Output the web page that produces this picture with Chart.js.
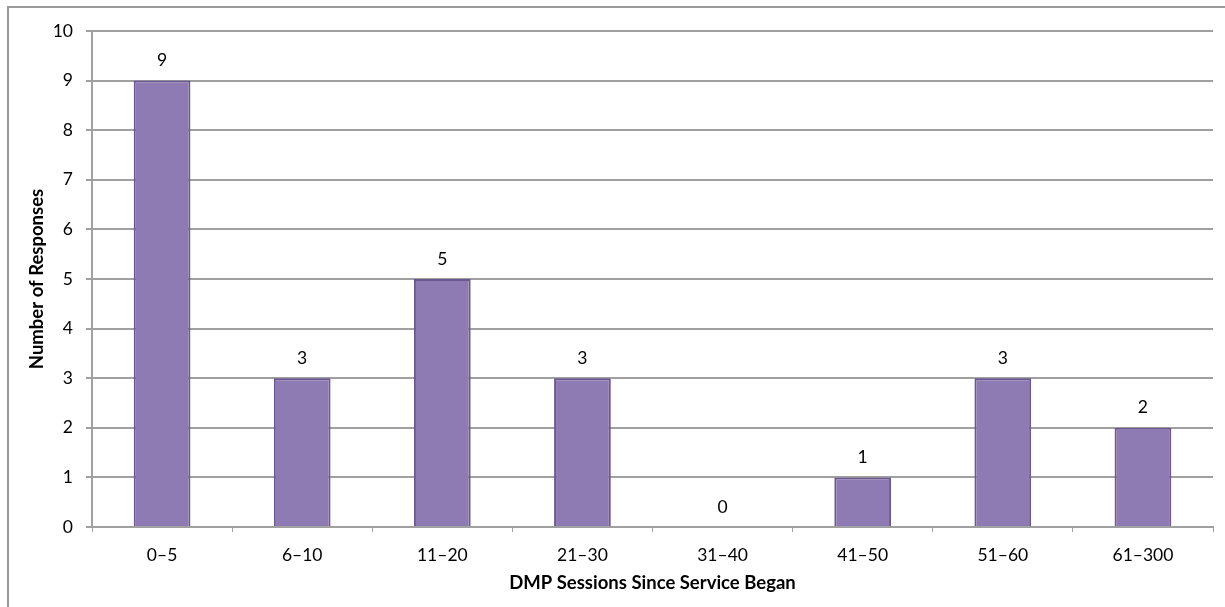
<!DOCTYPE html>
<html>
<head>
<meta charset="utf-8">
<script src="https://cdn.jsdelivr.net/npm/chart.js@4.4.1/dist/chart.umd.min.js"></script>
<style>
  html, body { margin: 0; padding: 0; background: #ffffff; }
  canvas { display: block; }
</style>
</head>
<body>
<canvas id="chart" width="1225" height="607"></canvas>
<script>
// Survey responses grouped by number of DMP sessions
const categories = ['0–5', '6–10', '11–20', '21–30', '31–40', '41–50', '51–60', '61–300'];
const responses = [9, 3, 5, 3, 0, 1, 3, 2];
const yTicks = [0, 1, 2, 3, 4, 5, 6, 7, 8, 9, 10];

const xTitle = 'DMP Sessions Since Service Began';
const yTitle = 'Number of Responses';

const FONT = 'Lato, "Open Sans", "Liberation Sans", sans-serif';
const GRID = '#a0a0a0';

// Gray frame around the whole chart
const framePlugin = {
  id: 'frame',
  beforeDraw(chart) {
    const ctx = chart.ctx;
    ctx.save();
    ctx.fillStyle = '#ffffff';
    ctx.fillRect(0, 0, chart.width, chart.height);
    ctx.strokeStyle = '#9a9a9a';
    ctx.lineWidth = 2;
    ctx.strokeRect(8, 7, chart.width + 20, chart.height + 20);
    ctx.restore();
  }
};

// Value printed above each bar
const valueLabels = {
  id: 'valueLabels',
  afterDatasetsDraw(chart) {
    const ctx = chart.ctx;
    const meta = chart.getDatasetMeta(0);
    const data = chart.data.datasets[0].data;
    ctx.save();
    ctx.font = '17.5px ' + FONT;
    ctx.fillStyle = '#000000';
    ctx.textAlign = 'center';
    ctx.textBaseline = 'middle';
    meta.data.forEach((bar, i) => {
      ctx.fillText(String(data[i]), bar.x, bar.y - 20);
    });
    ctx.restore();
  }
};

new Chart(document.getElementById('chart'), {
  type: 'bar',
  data: {
    labels: categories,
    datasets: [{
      data: responses,
      backgroundColor: '#8f7bb3',
      borderColor: '#6b5893',
      borderWidth: 2,
      borderSkipped: 'bottom',
      categoryPercentage: 1.0,
      barPercentage: 0.405
    }]
  },
  options: {
    responsive: false,
    devicePixelRatio: 1,
    animation: false,
    layout: { padding: { top: 31, right: 12, bottom: 0, left: 0 } },
    plugins: {
      legend: { display: false },
      tooltip: { enabled: false }
    },
    scales: {
      x: {
        grid: {
          display: true,
          drawOnChartArea: false,
          drawTicks: true,
          tickLength: 5,
          color: GRID,
          lineWidth: 1
        },
        border: { display: true, color: GRID, width: 2 },
        ticks: {
          color: '#000000',
          padding: 13,
          font: { family: FONT, size: 17.5 },
          maxRotation: 0,
          autoSkip: false
        },
        title: {
          display: true,
          text: xTitle,
          color: '#000000',
          font: { family: FONT, size: 18.5, weight: 'bold', lineHeight: 1.2 },
          padding: { top: 0, bottom: 13 }
        },
        afterFit(scale) { scale.height = 80; }
      },
      y: {
        min: 0,
        max: 10,
        afterBuildTicks(scale) {
          scale.ticks = yTicks.map(v => ({ value: v }));
        },
        grid: {
          color: GRID,
          lineWidth: 2,
          drawTicks: true,
          tickLength: 6
        },
        border: { display: true, color: GRID, width: 2 },
        ticks: {
          color: '#000000',
          padding: 13,
          font: { family: FONT, size: 17.5 }
        },
        title: {
          display: true,
          text: yTitle,
          color: '#000000',
          font: { family: FONT, size: 18.5, weight: 'bold', lineHeight: 1.2 },
          padding: { top: 26, bottom: 0 }
        },
        afterFit(scale) { scale.width = 92; }
      }
    }
  },
  plugins: [framePlugin, valueLabels]
});
</script>
</body>
</html>
